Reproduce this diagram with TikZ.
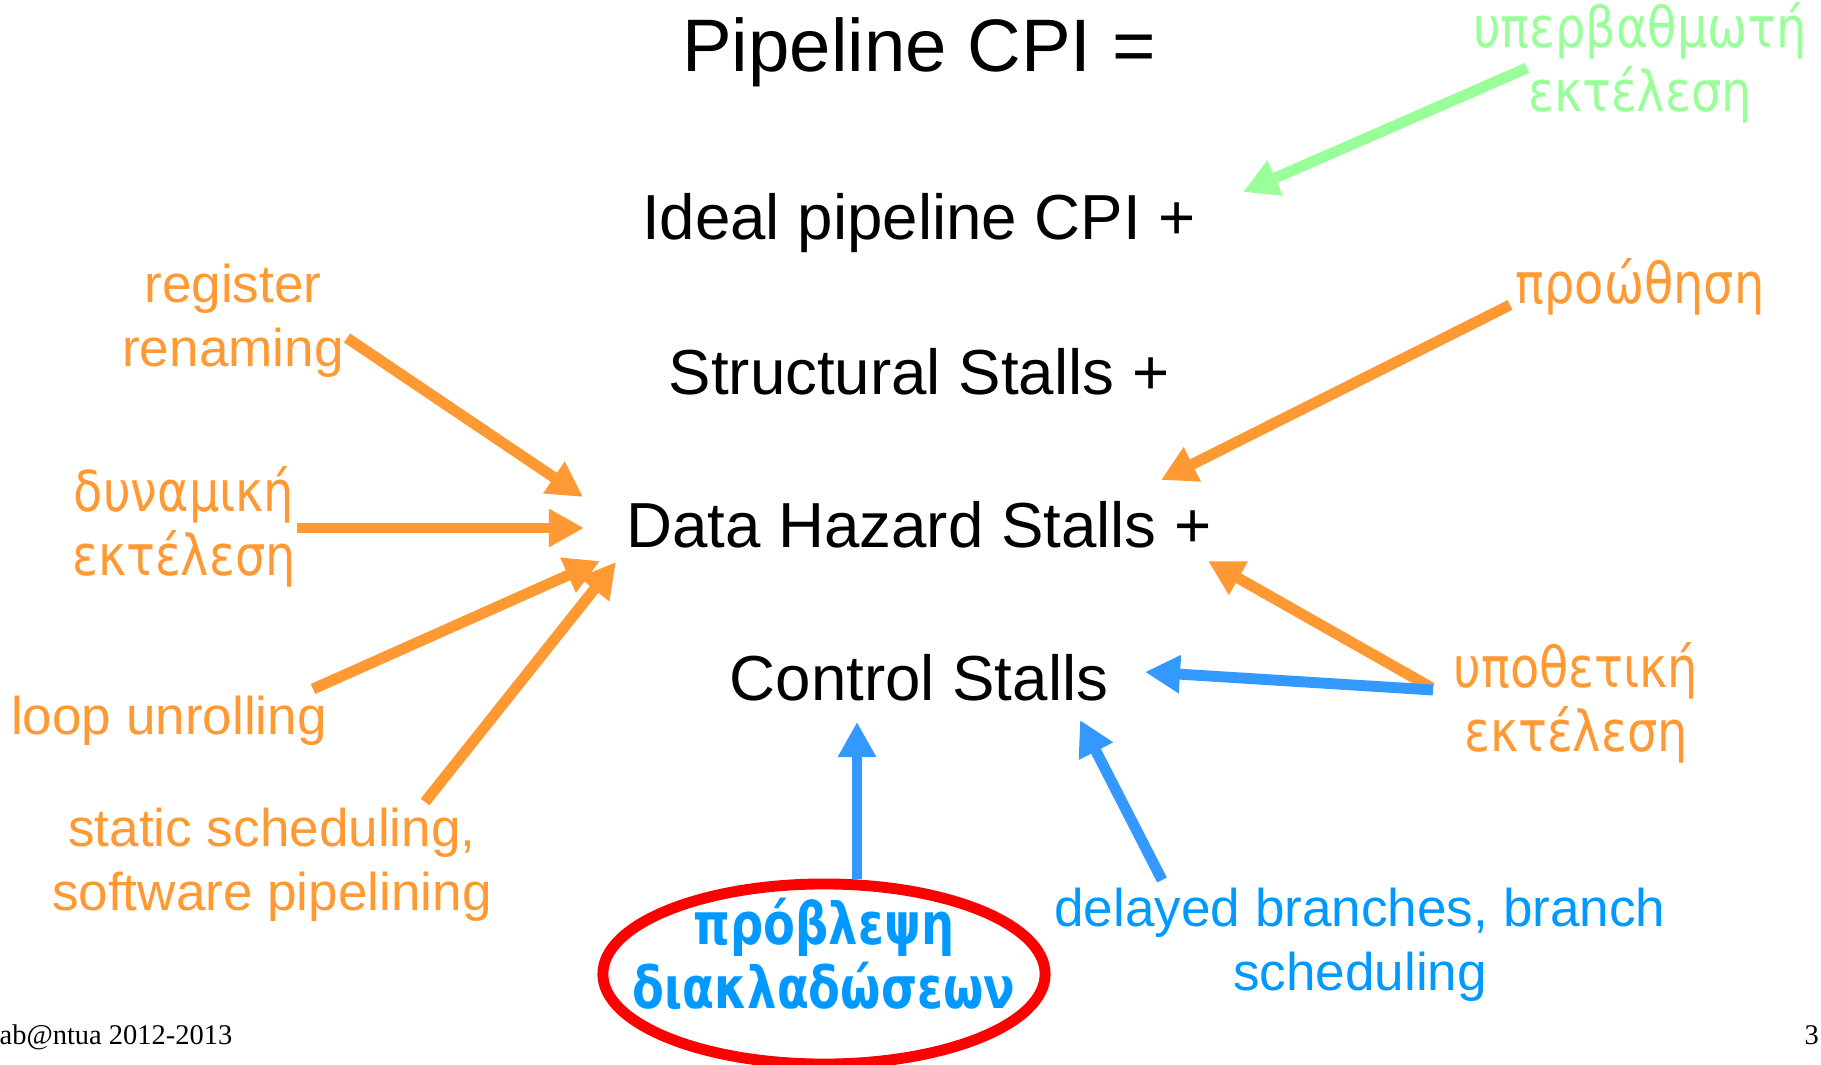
\documentclass[tikz,border=0pt]{standalone}
\usepackage{fontspec}
\setmainfont{Liberation Sans}
\newfontfamily\grfont[FakeStretch=0.85]{DejaVu Sans}
\newfontfamily\grboldfont[FakeStretch=0.8]{DejaVu Sans Bold}
\newfontfamily\footfont{Liberation Serif}
\usetikzlibrary{arrows.meta}
\definecolor{techorange}{RGB}{255,153,51}
\definecolor{techblue}{RGB}{51,153,255}
\definecolor{textblue}{RGB}{0,153,255}
\definecolor{techgreen}{RGB}{153,255,153}

\begin{document}
\begin{tikzpicture}[x=0.01cm,y=-0.01cm,
    term node/.style={anchor=base,inner sep=0pt,font=\fontsize{18.1}{22}\selectfont},
    tech node/.style={align=center,inner sep=0pt,text=techorange,font=\fontsize{15.1}{18.2}\selectfont},
    greek node/.style={tech node,font=\grfont\fontsize{16}{18.2}\selectfont},
    fat arrow/.style={line width=3.1pt,-{Triangle[length=0.35cm,width=0.36cm]}}
  ]
  \useasboundingbox (0,0) rectangle (1821,1065);
  % the terms of the sum
  \node[term node,font=\fontsize{21.15}{25}\selectfont] (cpi) at (919,72) {Pipeline CPI =};
  \node[term node] (ideal) at (919,240) {Ideal pipeline CPI +};
  \node[term node] (struct) at (919,395) {Structural Stalls +};
  \node[term node] (data) at (919,548) {Data Hazard Stalls +};
  \node[term node] (ctrl) at (919,701) {Control Stalls};
  % techniques
  \node[greek node,text=techgreen] (superscalar) at (1640,63) {υπερβαθμωτή\\εκτέλεση};
  \node[tech node] (rename) at (233,321) {register\\renaming};
  \node[greek node] (dynexec) at (184,527) {δυναμική\\εκτέλεση};
  \node[tech node,anchor=base] (unroll) at (169,735) {loop unrolling};
  \node[tech node] (sched) at (272,865) {static scheduling,\\software pipelining};
  \node[greek node,anchor=base] (forward) at (1640,304) {προώθηση};
  \node[greek node] (specexec) at (1576,703) {υποθετική\\εκτέλεση};
  \node[tech node,text=textblue] (delayed) at (1360,945) {delayed branches, branch\\scheduling};
  \node[greek node,text=textblue,font=\grboldfont\fontsize{16.5}{18.2}\selectfont] (predict) at (824,954) {πρόβλεψη\\διακλαδώσεων};
  \draw[red,line width=3.1pt] ([yshift=-0.2cm]predict.center) ellipse [x radius=2.21cm,y radius=0.9cm];
  % footer
  \node[anchor=base west,inner sep=0pt,font=\footfont\fontsize{8.1}{10}\selectfont] (foot) at (-1,1045) {ab@ntua 2012-2013};
  \node[anchor=base west,inner sep=0pt,font=\footfont\fontsize{8.1}{10}\selectfont] (page) at (1804,1045) {3};
  % arrow ends
  \coordinate (superscalar-tail) at (1527,68);
  \coordinate (superscalar-tip) at (1243,192);
  \coordinate (rename-tail) at (347,338);
  \coordinate (rename-tip) at (583,497);
  \coordinate (dynexec-tail) at (297,528);
  \coordinate (dynexec-tip) at (584,528);
  \coordinate (unroll-tail) at (313,689);
  \coordinate (unroll-tip) at (600,561);
  \coordinate (sched-tail) at (425,802);
  \coordinate (sched-tip) at (616,562);
  \coordinate (forward-tail) at (1510,305);
  \coordinate (forward-tip) at (1161,480);
  \coordinate (spec-tail) at (1432,688);
  \coordinate (spec-tip) at (1208,561);
  \coordinate (specctrl-tail) at (1433,690);
  \coordinate (specctrl-tip) at (1145,672);
  \coordinate (predict-tail) at (857,879);
  \coordinate (predict-tip) at (857,722);
  \coordinate (delayed-tail) at (1162,880);
  \coordinate (delayed-tip) at (1080,720);
  \path[fat arrow,techgreen]
    (superscalar-tail) edge (superscalar-tip);
  \path[fat arrow,techorange]
    (rename-tail) edge (rename-tip)
    (dynexec-tail) edge (dynexec-tip)
    (unroll-tail) edge (unroll-tip)
    (sched-tail) edge (sched-tip)
    (forward-tail) edge (forward-tip)
    (spec-tail) edge (spec-tip);
  \path[fat arrow,techblue]
    (specctrl-tail) edge (specctrl-tip)
    (predict-tail) edge (predict-tip)
    (delayed-tail) edge (delayed-tip);
\end{tikzpicture}
\end{document}
